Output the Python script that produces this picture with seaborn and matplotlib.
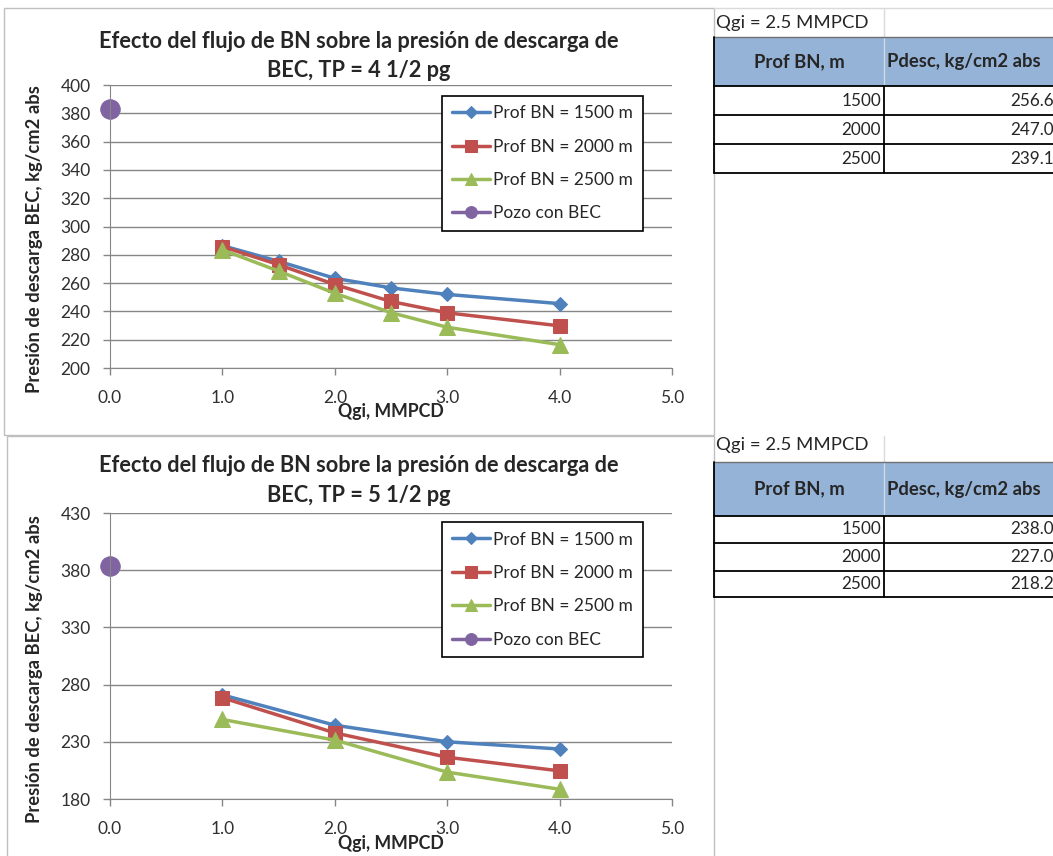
import numpy as np
import pandas as pd
import matplotlib.pyplot as plt
from matplotlib.patches import Rectangle
import seaborn as sns

# ---------------------------------------------------------------
# Datos
# ---------------------------------------------------------------
qgi_45 = [1.0, 1.5, 2.0, 2.5, 3.0, 4.0]
p45_1500 = [286.5, 275.4, 263.4, 256.6, 252.0, 245.5]
p45_2000 = [285.8, 273.0, 259.0, 247.0, 239.0, 229.8]
p45_2500 = [283.5, 268.5, 252.8, 239.1, 228.8, 216.5]
bec_45 = 383.0

qgi_55 = [1.0, 2.0, 3.0, 4.0]
p55_1500 = [271.0, 244.5, 230.0, 223.7]
p55_2000 = [268.5, 237.8, 216.5, 204.6]
p55_2500 = [249.5, 231.5, 203.5, 188.5]
bec_55 = 384.0

prof_bn = [1500, 2000, 2500]
pdesc_45 = [256.6, 247.0, 239.1]
pdesc_55 = [238.0, 227.0, 218.2]

labels = ["Prof BN = 1500 m", "Prof BN = 2000 m", "Prof BN = 2500 m", "Pozo con BEC"]
xticks = [0.0, 1.0, 2.0, 3.0, 4.0, 5.0]
yticks_45 = list(range(200, 401, 20))
yticks_55 = list(range(180, 431, 50))

W, H = 1053, 856
BLUE, RED, GREEN, PURPLE = "#4F81BD", "#C0504D", "#9BBB59", "#8064A2"
GRID = "#868686"
HDR = "#95B3D7"

sns.set_style("white")
plt.rcParams["font.family"] = ["Lato", "DejaVu Sans"]

fig = plt.figure(figsize=(W / 100, H / 100), dpi=100)
bg = fig.add_axes([0, 0, 1, 1])
bg.set_xlim(0, W); bg.set_ylim(H, 0); bg.axis("off")


def add_ax(x0, y0, x1, y1):
    """Axes en coordonnées pixel (haut-gauche / bas-droite)."""
    return fig.add_axes([x0 / W, 1 - y1 / H, (x1 - x0) / W, (y1 - y0) / H])


def plot_chart(ax, qgi, series, bec, yticks, title, ty, leg_anchor):
    styles = [(BLUE, "D", 7), (RED, "s", 10.5), (GREEN, "^", 11)]
    for vals, (c, m, ms), lab in zip(series, styles, labels):
        sns.lineplot(x=qgi, y=vals, ax=ax, color=c, marker=m, markersize=ms,
                     markeredgecolor=c, linewidth=2.5, label=lab, clip_on=False)
    sns.lineplot(x=[0.0], y=[bec], ax=ax, color=PURPLE, marker="o", markersize=14,
                 markeredgecolor=PURPLE, linewidth=2.5, label=labels[3], clip_on=False)

    ax.set_xlim(0, 5); ax.set_ylim(yticks[0], yticks[-1])
    ax.set_xticks(xticks); ax.set_xticklabels([f"{v:.1f}" for v in xticks])
    ax.set_yticks(yticks)
    ax.yaxis.grid(True, color=GRID, lw=1); ax.xaxis.grid(False)
    for s in ["top", "right"]:
        ax.spines[s].set_visible(False)
    for s in ["left", "bottom"]:
        ax.spines[s].set_color(GRID)
    ax.tick_params(axis="both", bottom=True, left=True, direction="out", length=5,
                   width=1, color=GRID, labelsize=12.5, labelcolor="#303030")
    ax.tick_params(axis="y", pad=9)
    ax.tick_params(axis="x", pad=11)

    ax.set_ylabel("Presión de descarga BEC, kg/cm2 abs", fontsize=13.25, fontweight="bold")
    ax.yaxis.set_label_coords(-0.119, 0.454)
    ax.set_xlabel("Qgi, MMPCD", fontsize=12.75, fontweight="bold")
    ax.xaxis.set_label_coords(0.5, -0.155)
    ax.xaxis.label.set_va("center")

    leg = ax.legend(loc="upper left", bbox_to_anchor=leg_anchor, borderaxespad=0,
                    fontsize=12.5, frameon=True, fancybox=False, edgecolor="black",
                    handlelength=2.2, handletextpad=0.2, labelspacing=1.0,
                    borderpad=0.55, framealpha=1)
    leg.get_frame().set_linewidth(1.2)
    for h, ms in zip(leg.legend_handles, [6, 8, 8.5, 8.5]):
        h.set_markersize(ms)

    l1, l2 = title
    bg.text(359, ty, l1, ha="center", va="center", fontsize=15.7, fontweight="bold")
    bg.text(359, ty + 29.5, l2, ha="center", va="center", fontsize=15.7, fontweight="bold")


def draw_table(ty, h0, h1, edges, values):
    bg.text(716, ty, "Qgi = 2.5 MMPCD", ha="left", va="center", fontsize=13.3)
    bg.add_patch(Rectangle((714, h0), W - 714, h1 - h0, fc=HDR, ec="none"))
    bg.plot([884, 884], [h0, h1], color="#D0D8E4", lw=1)
    bg.text(799, (h0 + h1) / 2, "Prof BN, m", ha="center", va="center",
            fontsize=13.3, fontweight="bold")
    bg.text(887, (h0 + h1) / 2, "Pdesc, kg/cm2 abs", ha="left", va="center",
            fontsize=13.3, fontweight="bold")
    bg.plot([714, W], [h0, h0], color="#707070", lw=1)
    for e in edges:
        bg.plot([714, W], [e, e], color="black", lw=1.3)
    bg.plot([714, 714], [h0, edges[-1]], color="black", lw=1.3)
    bg.plot([884, 884], [edges[0], edges[-1]], color="black", lw=1.3)
    for i, (p, v) in enumerate(zip(prof_bn, values)):
        yc = (edges[i] + edges[i + 1]) / 2
        bg.text(881, yc, f"{p}", ha="right", va="center", fontsize=12.3)
        bg.text(1054, yc, f"{v:.1f}", ha="right", va="center", fontsize=12.3)


# bordes del gráfico y cuadrícula de la hoja
bg.add_patch(Rectangle((4, 8), 710, 427, fc="white", ec="#BFBFBF", lw=1))
bg.add_patch(Rectangle((7, 436), 707, 430, fc="white", ec="#BFBFBF", lw=1))
bg.plot([714, W], [8, 8], color="#DADADA", lw=1)
bg.plot([884, 884], [8, 37], color="#DADADA", lw=1)
bg.plot([884, 884], [436, 462], color="#DADADA", lw=1)

ax1 = add_ax(110, 85, 672, 368)
plot_chart(ax1, qgi_45, [p45_1500, p45_2000, p45_2500], bec_45, yticks_45,
           ("Efecto del flujo de BN sobre la presión de descarga de", "BEC, TP = 4 1/2 pg"),
           41, (0.5907, 0.962))

ax2 = add_ax(110, 513, 672, 799)
plot_chart(ax2, qgi_55, [p55_1500, p55_2000, p55_2500], bec_55, yticks_55,
           ("Efecto del flujo de BN sobre la presión de descarga de", "BEC, TP = 5 1/2 pg"),
           465.5, (0.5907, 0.9685))

draw_table(23, 37, 86, [86, 115, 144, 173], pdesc_45)
draw_table(445, 462, 516, [516, 543, 571, 597], pdesc_55)

fig.savefig("out.png", dpi=100)
